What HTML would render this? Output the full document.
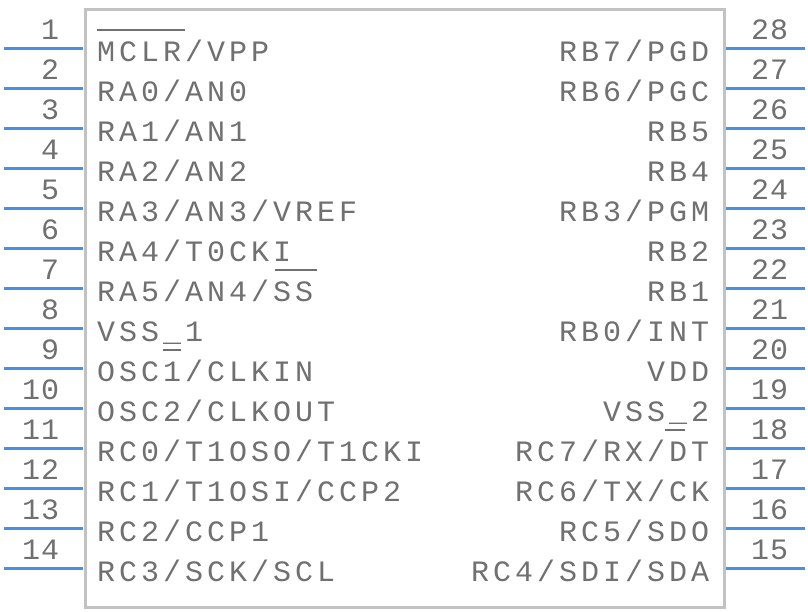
<!DOCTYPE html>
<html><head><meta charset="utf-8"><style>
body{margin:0;width:808px;height:612px;background:#fff;position:relative;overflow:hidden;font-family:"Courier New","Nimbus Mono PS","FreeMono","Liberation Mono",monospace;color:#707070}
.box{position:absolute;left:84px;top:8px;width:636px;height:595px;border:3px solid #c2c2c2}
.ln{position:absolute;height:3px;background:#4a90e2;width:79px}
.t{position:absolute;font-size:30px;letter-spacing:4px;line-height:40px;white-space:pre}
.n{position:absolute;font-size:30px;letter-spacing:1px;line-height:40px;width:60px}
.o{position:absolute;height:2px;background:#707070}
</style></head><body>
<div class="box"></div>
<div id="c"></div>
<script>
var L=["MCLR/VPP","RA0/AN0","RA1/AN1","RA2/AN2","RA3/AN3/VREF","RA4/T0CKI","RA5/AN4/SS","VSS_1","OSC1/CLKIN","OSC2/CLKOUT","RC0/T1OSO/T1CKI","RC1/T1OSI/CCP2","RC2/CCP1","RC3/SCK/SCL"];
var R=["RB7/PGD","RB6/PGC","RB5","RB4","RB3/PGM","RB2","RB1","RB0/INT","VDD","VSS_2","RC7/RX/DT","RC6/TX/CK","RC5/SDO","RC4/SDI/SDA"];
var h="";
for(var i=0;i<14;i++){
 var y=47+40*i;
 h+='<div class="ln" style="left:4px;top:'+y+'px"></div>';
 h+='<div class="ln" style="left:726px;top:'+y+'px"></div>';
 h+='<div class="n" style="left:0;top:'+(y-35)+'px;text-align:right">'+(i+1)+'</div>';
 h+='<div class="n" style="left:751px;top:'+(y-35)+'px">'+(28-i)+'</div>';
 h+='<div class="t" style="left:97px;top:'+(34+40*i)+'px">'+L[i]+'</div>';
 h+='<div class="t" style="right:95px;top:'+(34+40*i)+'px;text-align:right">'+R[i]+'</div>';
}
h+='<div class="o" style="left:97px;top:29px;width:88px"></div>';
h+='<div class="o" style="left:275px;top:269px;width:42px"></div>';
h+='<div class="o" style="left:163px;top:349px;width:18px"></div>';
h+='<div class="o" style="left:665px;top:429px;width:20px"></div>';
document.getElementById("c").innerHTML=h;
</script>
</body></html>
